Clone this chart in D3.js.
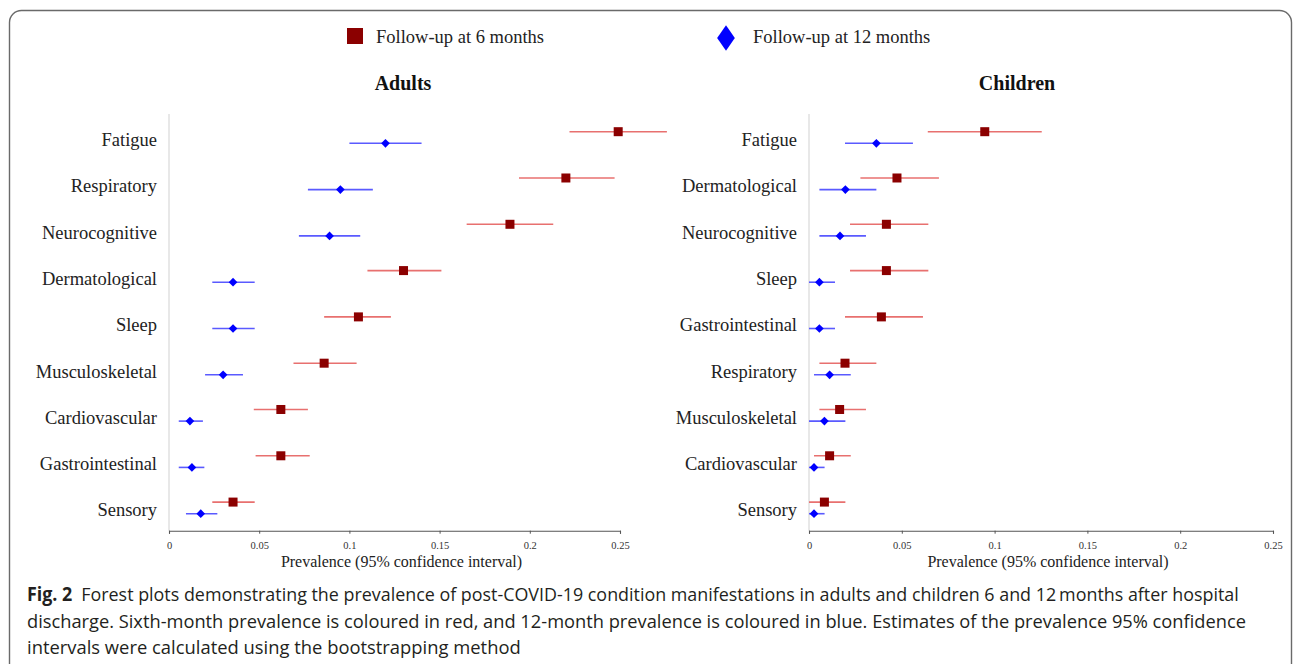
<!DOCTYPE html>
<html>
<head>
<meta charset="utf-8">
<script src="https://cdn.jsdelivr.net/npm/d3@7"></script>
<style>
  body { margin: 0; background: #fff; }
  svg text { font-family: "Liberation Serif", "Times New Roman", serif; }
</style>
</head>
<body>
<div id="chart"></div>
<script>
// categories, top to bottom
const adultCats = ["Fatigue", "Respiratory", "Neurocognitive", "Dermatological", "Sleep",
  "Musculoskeletal", "Cardiovascular", "Gastrointestinal", "Sensory"];
const childCats = ["Fatigue", "Dermatological", "Neurocognitive", "Sleep", "Gastrointestinal",
  "Respiratory", "Musculoskeletal", "Cardiovascular", "Sensory"];

// [estimate, lower, upper]
const adult6 = [[0.249, 0.222, 0.276], [0.220, 0.194, 0.247], [0.189, 0.165, 0.213],
  [0.130, 0.110, 0.151], [0.105, 0.086, 0.123], [0.086, 0.069, 0.104],
  [0.062, 0.047, 0.077], [0.062, 0.048, 0.078], [0.0355, 0.024, 0.0475]];
const adult12 = [[0.120, 0.100, 0.140], [0.095, 0.077, 0.113], [0.089, 0.072, 0.106],
  [0.0355, 0.024, 0.0475], [0.0355, 0.024, 0.0475], [0.030, 0.020, 0.041],
  [0.0116, 0.0054, 0.0188], [0.0127, 0.0054, 0.0196], [0.0176, 0.0094, 0.0268]];
const child6 = [[0.0947, 0.064, 0.1254], [0.0474, 0.0277, 0.070], [0.0417, 0.0221, 0.0643],
  [0.0417, 0.0221, 0.0643], [0.039, 0.0194, 0.0614], [0.0194, 0.0056, 0.0363],
  [0.0165, 0.0056, 0.0307], [0.0111, 0.0027, 0.0225], [0.0083, 0.0, 0.0196]];
const child12 = [[0.0363, 0.0194, 0.056], [0.0196, 0.0056, 0.0363], [0.0167, 0.0056, 0.0307],
  [0.0056, 0.0, 0.014], [0.0056, 0.0, 0.014], [0.0111, 0.0027, 0.0225],
  [0.0083, 0.0, 0.0196], [0.0027, 0.0, 0.0084], [0.0027, 0.0, 0.0084]];

const xTicks = [0, 0.05, 0.1, 0.15, 0.2, 0.25];
const seriesNames = ["Follow-up at 6 months", "Follow-up at 12 months"];

const W = 1295, H = 664;
const svg = d3.select("#chart").append("svg")
  .attr("width", W).attr("height", H);

// rounded frame round the figure
svg.append("rect")
  .attr("x", 9.5).attr("y", 10.5)
  .attr("width", 1282).attr("height", 700)
  .attr("rx", 12).attr("ry", 12)
  .attr("fill", "none").attr("stroke", "#6a6a6a").attr("stroke-width", 1.4);

// legend
const legend = svg.append("g");
legend.append("rect")
  .attr("x", 347).attr("y", 28).attr("width", 16).attr("height", 16)
  .attr("fill", "#8b0000");
legend.append("text")
  .attr("x", 376).attr("y", 43)
  .attr("font-size", 18.5).attr("fill", "#222")
  .text(seriesNames[0]);
legend.append("path")
  .attr("d", d3.symbol(d3.symbolDiamond2, 200)())
  .attr("transform", "translate(726,38) scale(1.0,1.45)")
  .attr("fill", "#0000ff");
legend.append("text")
  .attr("x", 753).attr("y", 43)
  .attr("font-size", 18.5).attr("fill", "#222")
  .text(seriesNames[1]);

function panel(opts) {
  const x = d3.scaleLinear().domain([0, 0.25]).range([opts.x0, opts.x1]);
  const y = d3.scaleBand().domain(opts.cats).range([114, 530.7]);
  const step = y.step();
  const g = svg.append("g");

  g.append("text")
    .attr("x", opts.titleX).attr("y", 90)
    .attr("text-anchor", "middle")
    .attr("font-size", 20).attr("font-weight", "bold").attr("fill", "#111")
    .text(opts.title);

  // light vertical axis
  g.append("line")
    .attr("x1", x(0)).attr("x2", x(0))
    .attr("y1", 114).attr("y2", 530.7)
    .attr("stroke", "#d9d9d9").attr("stroke-width", 1.2);

  // bottom axis
  const axis = g.append("g")
    .attr("transform", "translate(0,530.7)")
    .call(d3.axisBottom(x).tickValues(xTicks).tickSize(3).tickPadding(8)
      .tickFormat(d => d3.format("~g")(d)));
  axis.select(".domain").attr("stroke", "#555").attr("stroke-width", 1.1);
  axis.selectAll(".tick line").attr("stroke", "#555");
  axis.selectAll(".tick text")
    .attr("font-family", "Liberation Serif, serif")
    .attr("font-size", 10.5).attr("fill", "#333");

  g.append("text")
    .attr("x", (opts.x0 + opts.x1) / 2 + 7).attr("y", 567)
    .attr("text-anchor", "middle")
    .attr("font-size", 16).attr("fill", "#222")
    .text("Prevalence (95% confidence interval)");

  // category labels
  g.selectAll("text.cat").data(opts.cats).enter()
    .append("text")
    .attr("class", "cat")
    .attr("x", opts.x0 - 12)
    .attr("y", d => y(d) + 32)
    .attr("text-anchor", "end")
    .attr("font-size", 18.5).attr("fill", "#222")
    .text(d => d);

  // 6 months: red CI, dark red square
  const r6 = opts.cats.map((c, i) => ({ c, v: opts.s6[i] }));
  const r12 = opts.cats.map((c, i) => ({ c, v: opts.s12[i] }));
  const y6 = d => y(d.c) + step * 0.382;
  const y12 = d => y(d.c) + step * 0.633;

  g.selectAll("line.ci6").data(r6).enter().append("line")
    .attr("x1", d => x(d.v[1])).attr("x2", d => x(d.v[2]))
    .attr("y1", y6).attr("y2", y6)
    .attr("stroke", "#e8706f").attr("stroke-width", 1.6);
  g.selectAll("rect.pt6").data(r6).enter().append("rect")
    .attr("x", d => x(d.v[0]) - 4.5).attr("y", d => y6(d) - 4.5)
    .attr("width", 9).attr("height", 9)
    .attr("fill", "#8b0000");

  // 12 months: blue CI, blue diamond
  g.selectAll("line.ci12").data(r12).enter().append("line")
    .attr("x1", d => x(d.v[1])).attr("x2", d => x(d.v[2]))
    .attr("y1", y12).attr("y2", y12)
    .attr("stroke", "#5a5aff").attr("stroke-width", 1.6);
  g.selectAll("path.pt12").data(r12).enter().append("path")
    .attr("d", d3.symbol(d3.symbolDiamond2, 48)())
    .attr("transform", d => `translate(${x(d.v[0])},${y12(d)})`)
    .attr("fill", "#0000ff");
}

panel({ title: "Adults", titleX: 403, cats: adultCats, s6: adult6, s12: adult12, x0: 169, x1: 620 });
panel({ title: "Children", titleX: 1017, cats: childCats, s6: child6, s12: child12, x0: 809, x1: 1273 });

// caption - condensed by squeezing each line to the width it has in the figure
const capFont = "'Open Sans', 'Noto Sans', sans-serif";
const cap = svg.append("g").attr("fill", "#231f20");
function capLine(y, width, parts) {
  const t = cap.append("text").attr("y", 0).attr("x", 0)
    .attr("font-size", 19).style("font-family", capFont);
  parts.forEach(p => {
    t.append("tspan").attr("font-weight", p.bold ? "bold" : null).text(p.s);
  });
  const natural = t.node().getComputedTextLength();
  t.attr("transform", `translate(27,${y}) scale(${width / natural},1)`);
}
capLine(601, 1213, [{ s: "Fig. 2", bold: true },
  { s: "\u2002Forest plots demonstrating the prevalence of post-COVID-19 condition manifestations in adults and children 6 and 12\u2009months after hospital" }]);
capLine(628, 1220, [{ s: "discharge. Sixth-month prevalence is coloured in red, and 12-month prevalence is coloured in blue. Estimates of the prevalence 95% confidence" }]);
capLine(654, 494, [{ s: "intervals were calculated using the bootstrapping method" }]);
</script>
</body>
</html>
